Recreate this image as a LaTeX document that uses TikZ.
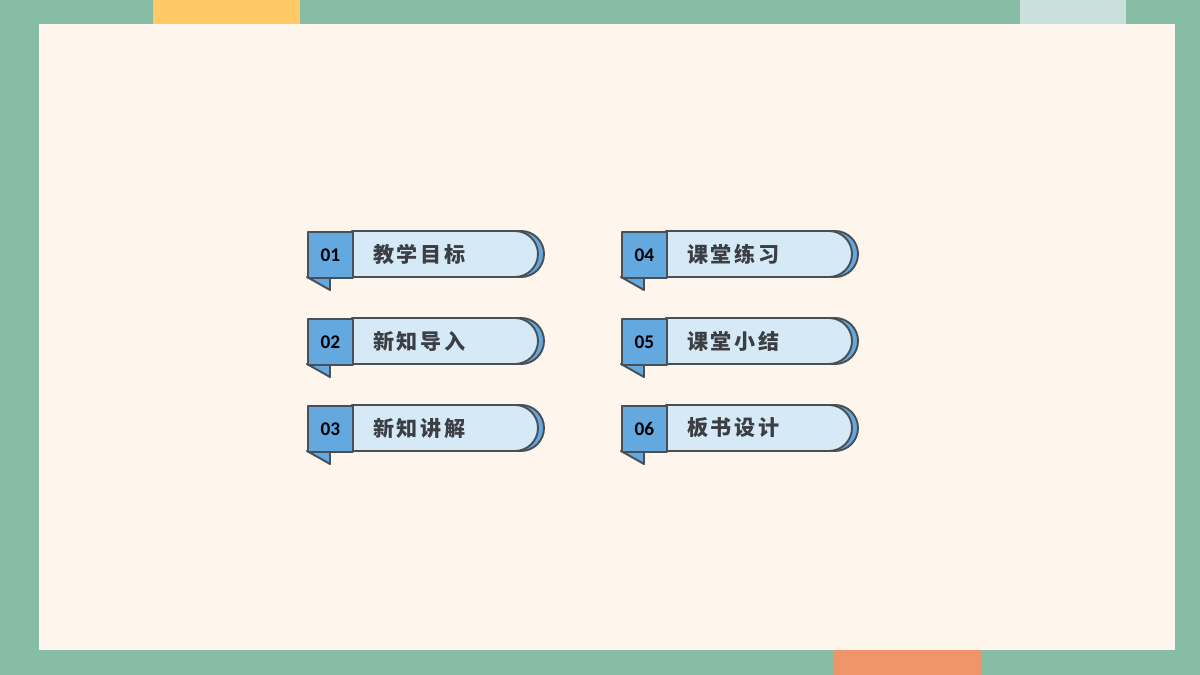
\documentclass[tikz,border=0pt]{standalone}
\usepackage{fontspec}
\setmainfont{Carlito}
\newfontfamily\cjk[LetterSpace=12]{Noto Sans CJK SC}
\definecolor{frame}{HTML}{88BDA5}
\definecolor{paper}{HTML}{FEF6EC}
\definecolor{tabblue}{HTML}{64A8E0}
\definecolor{tablight}{HTML}{D6E9F7}
\definecolor{edge}{HTML}{4A4F55}
\definecolor{topyellow}{HTML}{FFC966}
\definecolor{topgrey}{HTML}{C9E0DC}
\definecolor{botorange}{HTML}{F0956A}
\tikzset{
  outline/.style={draw=edge, line width=1.1pt, line join=round},
  numtext/.style={font=\bfseries\fontsize{11}{11}\selectfont, text=black},
  itemtext/.style={font=\cjk\bfseries\fontsize{12}{12}\selectfont, text=edge!80!black, anchor=west}
}
\begin{document}
\begin{tikzpicture}[x=0.02cm,y=-0.02cm]
\useasboundingbox (0,0) rectangle (1200,675);
\fill[frame] (0,0) rectangle (1200,675);
\fill[paper] (39,24) rectangle (1175,650);
\fill[topyellow] (153,0) rectangle (300,24);
\fill[topgrey] (1020,0) rectangle (1126,24);
\fill[botorange] (834,650) rectangle (981,675);

\foreach \x/\y/\n/\t in {307/231/01/教学目标, 307/318/02/新知导入, 307/405/03/新知讲解,
                         621/231/04/课堂练习, 621/318/05/课堂小结, 621/405/06/板书设计}
{
% fold
\draw[outline, fill=tabblue] (\x,\y+46) -- (\x+23,\y+46) -- (\x+23,\y+59) -- cycle;
% shadow
\draw[outline, fill=tabblue] (\x+45,\y) -- (\x+214,\y)
  arc[start angle=90, end angle=-90, radius=0.46cm] -- (\x+45,\y+46) -- cycle;
% body
\draw[outline, fill=tablight] (\x+45,\y) -- (\x+208,\y)
  arc[start angle=90, end angle=-90, radius=0.46cm] -- (\x+45,\y+46) -- cycle;
\node[outline, fill=tabblue, minimum width=0.9cm, minimum height=0.92cm, inner sep=0pt,
  anchor=north west, numtext] (num\n) at (\x,\y) {\n};
\node[itemtext] (txt\n) at (\x+60,\y+23) {\t};
}
\end{tikzpicture}
\end{document}
